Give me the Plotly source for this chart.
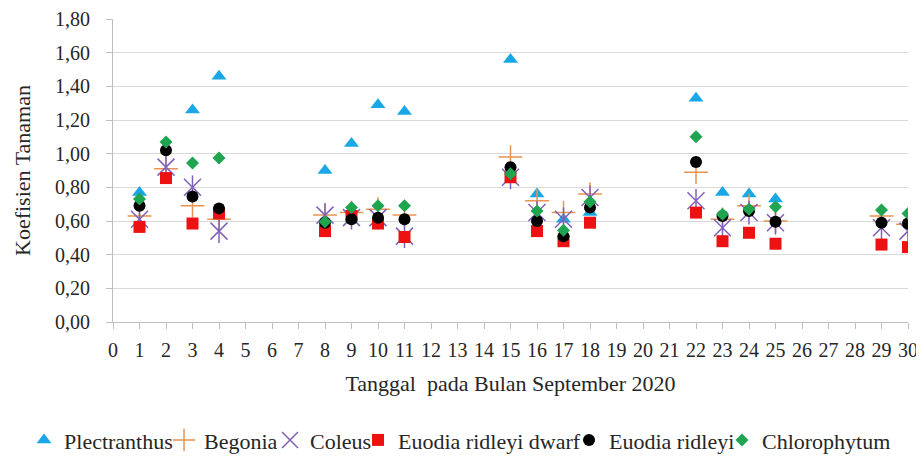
import plotly.graph_objects as go

days = [1, 2, 3, 4, 8, 9, 10, 11, 15, 16, 17, 18, 22, 23, 24, 25, 29, 30]
plectranthus = [0.77, None, 1.26, 1.46, 0.90, 1.06, 1.29, 1.25, 1.56, 0.76, 0.61, 0.65, 1.33, 0.77, 0.76, 0.73, None, None]
begonia = [0.63, 0.91, 0.69, 0.61, 0.635, 0.65, 0.67, 0.635, 0.98, 0.72, 0.65, 0.76, 0.89, 0.61, 0.69, 0.60, 0.63, 0.58]
coleus = [0.61, 0.92, 0.80, 0.54, 0.635, 0.62, 0.62, 0.51, 0.86, 0.65, 0.61, 0.74, 0.72, 0.56, 0.65, 0.59, 0.56, 0.54]
euodia_dwarf = [0.565, 0.855, 0.585, 0.645, 0.54, 0.63, 0.585, 0.505, 0.86, 0.54, 0.48, 0.59, 0.65, 0.48, 0.53, 0.465, 0.46, 0.445]
euodia = [0.69, 1.02, 0.745, 0.675, 0.59, 0.61, 0.62, 0.61, 0.92, 0.60, 0.51, 0.68, 0.95, 0.63, 0.66, 0.595, 0.59, 0.585]
chlorophytum = [0.73, 1.07, 0.945, 0.975, 0.595, 0.68, 0.69, 0.69, 0.88, 0.66, 0.545, 0.715, 1.10, 0.64, 0.67, 0.685, 0.665, 0.645]

x_ticks = list(range(0, 31))
y_ticks = [0.0, 0.2, 0.4, 0.6, 0.8, 1.0, 1.2, 1.4, 1.6, 1.8]

FONT = "Liberation Serif"
TXT = "#262626"
ORANGE = "#e8944f"
PURPLE = "#8060b8"

fig = go.Figure()
fig.add_trace(go.Scatter(x=days, y=plectranthus, mode="markers", name="Plectranthus", legend="legend",
                         marker=dict(symbol="triangle-up", size=13, color="#1aa7e6")))
fig.add_trace(go.Scatter(x=days, y=begonia, mode="markers", name="Begonia", legend="legend2",
                         marker=dict(symbol="cross-thin-open", size=17, color=ORANGE,
                                     line=dict(color=ORANGE, width=1.5))))
fig.add_trace(go.Scatter(x=days, y=coleus, mode="markers", name="Coleus", legend="legend3",
                         legendgroup="coleus",
                         marker=dict(symbol="x-thin-open", size=17, color=PURPLE,
                                     line=dict(color=PURPLE, width=1.5))))
fig.add_trace(go.Scatter(x=days, y=coleus, mode="markers", name="Coleus", legend="legend3",
                         legendgroup="coleus", showlegend=False, hoverinfo="skip",
                         marker=dict(symbol="line-ns-open", size=17, color=PURPLE,
                                     line=dict(color=PURPLE, width=1.5))))
fig.add_trace(go.Scatter(x=days, y=euodia_dwarf, mode="markers", name="Euodia ridleyi dwarf",
                         legend="legend4",
                         marker=dict(symbol="square", size=12, color="#ee1111")))
fig.add_trace(go.Scatter(x=days, y=euodia, mode="markers", name="Euodia ridleyi", legend="legend5",
                         marker=dict(symbol="circle", size=12, color="#000000")))
fig.add_trace(go.Scatter(x=days, y=chlorophytum, mode="markers", name="Chlorophytum",
                         legend="legend6",
                         marker=dict(symbol="diamond", size=10, color="#1fa550")))

def leg(xpos):
    return dict(orientation="h", xref="paper", x=xpos, xanchor="left",
                yref="container", y=0.044, yanchor="middle",
                font=dict(family=FONT, size=22, color=TXT), itemwidth=30,
                bgcolor="rgba(0,0,0,0)", borderwidth=0)

fig.update_layout(
    width=916, height=452,
    margin=dict(l=105, r=16, t=11, b=138),
    paper_bgcolor="white", plot_bgcolor="white",
    separators=",.",
    font=dict(family=FONT, size=19, color=TXT),
    showlegend=True,
    legend=leg(-0.1119),
    legend2=leg(0.0642),
    legend3=leg(0.1975),
    legend4=leg(0.3082),
    legend5=leg(0.5736),
    legend6=leg(0.7660),
    xaxis=dict(range=[0, 30], tickmode="array", tickvals=x_ticks,
               ticktext=[str(t) for t in x_ticks], automargin=False,
               ticklabeloverflow="allow",
               showgrid=False, zeroline=False, showline=True, linecolor="#bfbfbf", linewidth=1,
               ticks="outside", ticklen=6, tickcolor="#bfbfbf", ticklabelstandoff=4,
               tickfont=dict(family=FONT, size=20, color=TXT),
               title=dict(text="Tanggal\u00a0 pada Bulan September 2020",
                          font=dict(family=FONT, size=22, color=TXT), standoff=15)),
    yaxis=dict(range=[0, 1.8001], tickmode="array", tickvals=y_ticks, tickformat=".2f",
               automargin=False, ticklabeloverflow="allow",
               showgrid=True, gridcolor="#d9d9d9", gridwidth=1,
               zeroline=False, showline=True, linecolor="#bfbfbf", linewidth=1,
               ticks="outside", ticklen=6, tickcolor="#bfbfbf", ticklabelstandoff=12,
               tickfont=dict(family=FONT, size=20, color=TXT),
               title=dict(text="Koefisien Tanaman",
                          font=dict(family=FONT, size=22, color=TXT), standoff=18)),
)

fig.write_html("out.html")
